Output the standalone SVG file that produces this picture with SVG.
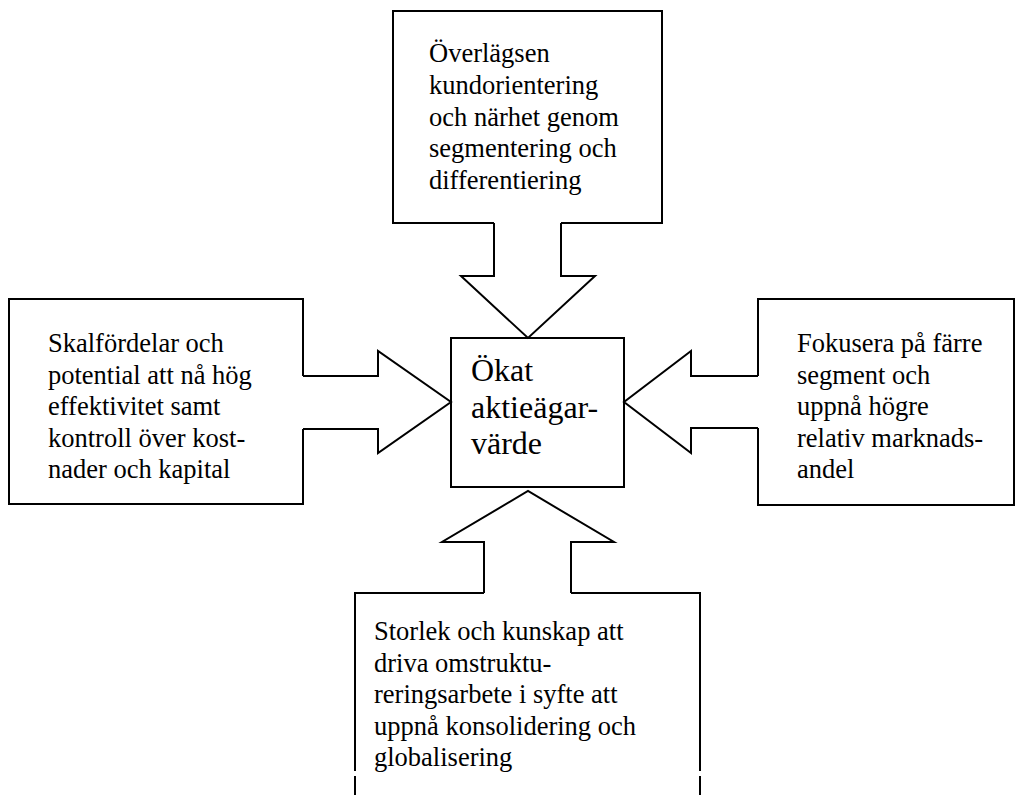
<svg xmlns="http://www.w3.org/2000/svg" width="1015" height="795" viewBox="0 0 1015 795">
  <style>
    .outline { fill: none; stroke: #000; stroke-width: 2; stroke-linejoin: miter; stroke-linecap: butt; }
    .arrow { fill: #fff; stroke: #000; stroke-width: 2; stroke-linejoin: miter; }
    .label { font-family: "Liberation Serif", "Times New Roman", serif; font-size: 26.5px; fill: #000; }
    .core { font-family: "Liberation Serif", "Times New Roman", serif; font-size: 32px; fill: #000; }
  </style>
  <rect width="1015" height="795" fill="#fff"/>

  <!-- block arrows feeding the centre box -->
  <g id="connectors">
    <path class="arrow" d="M 494 223 V 276 H 461 L 528 338 L 595 276 H 561 V 223"/>
    <path class="arrow" d="M 303 376 H 378 V 351 L 451 402 L 378 453 V 429 H 303"/>
    <path class="arrow" d="M 758 376 H 691 V 351 L 624 402 L 691 453 V 428 H 758"/>
    <path class="arrow" d="M 484 593 V 542 H 442 L 528 491 L 614 542 H 571 V 593"/>
  </g>

  <g id="node-top">
    <path class="outline" d="M 494 223 H 393 V 11 H 662 V 223 H 561"/>
    <text class="label" x="429" y="62">Överlägsen</text>
    <text class="label" x="429" y="94">kundorientering</text>
    <text class="label" x="429" y="126">och närhet genom</text>
    <text class="label" x="429" y="157">segmentering och</text>
    <text class="label" x="429" y="189">differentiering</text>
  </g>

  <g id="node-left">
    <path class="outline" d="M 303 376 V 299 H 9 V 504 H 303 V 429"/>
    <text class="label" x="48" y="352">Skalfördelar och</text>
    <text class="label" x="48" y="383.5">potential att nå hög</text>
    <text class="label" x="48" y="415">effektivitet samt</text>
    <text class="label" x="48" y="446.5">kontroll över kost-</text>
    <text class="label" x="48" y="478">nader och kapital</text>
  </g>

  <g id="node-center">
    <rect class="outline" x="451" y="338" width="173" height="149"/>
    <text class="core" x="471" y="381">Ökat</text>
    <text class="core" x="471" y="417.5">aktieägar-</text>
    <text class="core" x="471" y="454">värde</text>
  </g>

  <g id="node-right">
    <path class="outline" d="M 758 376 V 299 H 1014 V 505 H 758 V 428"/>
    <text class="label" x="797" y="352">Fokusera på färre</text>
    <text class="label" x="797" y="383.5">segment och</text>
    <text class="label" x="797" y="415">uppnå högre</text>
    <text class="label" x="797" y="446.5">relativ marknads-</text>
    <text class="label" x="797" y="478">andel</text>
  </g>

  <g id="node-bottom">
    <path class="outline" d="M 484 593 H 355 V 771 M 355 776 V 795 M 571 593 H 700 V 771 M 700 776 V 795"/>
    <text class="label" x="374" y="640">Storlek och kunskap att</text>
    <text class="label" x="374" y="671.5">driva omstruktu-</text>
    <text class="label" x="374" y="703">reringsarbete i syfte att</text>
    <text class="label" x="374" y="734.5">uppnå konsolidering och</text>
    <text class="label" x="374" y="766">globalisering</text>
  </g>
</svg>
